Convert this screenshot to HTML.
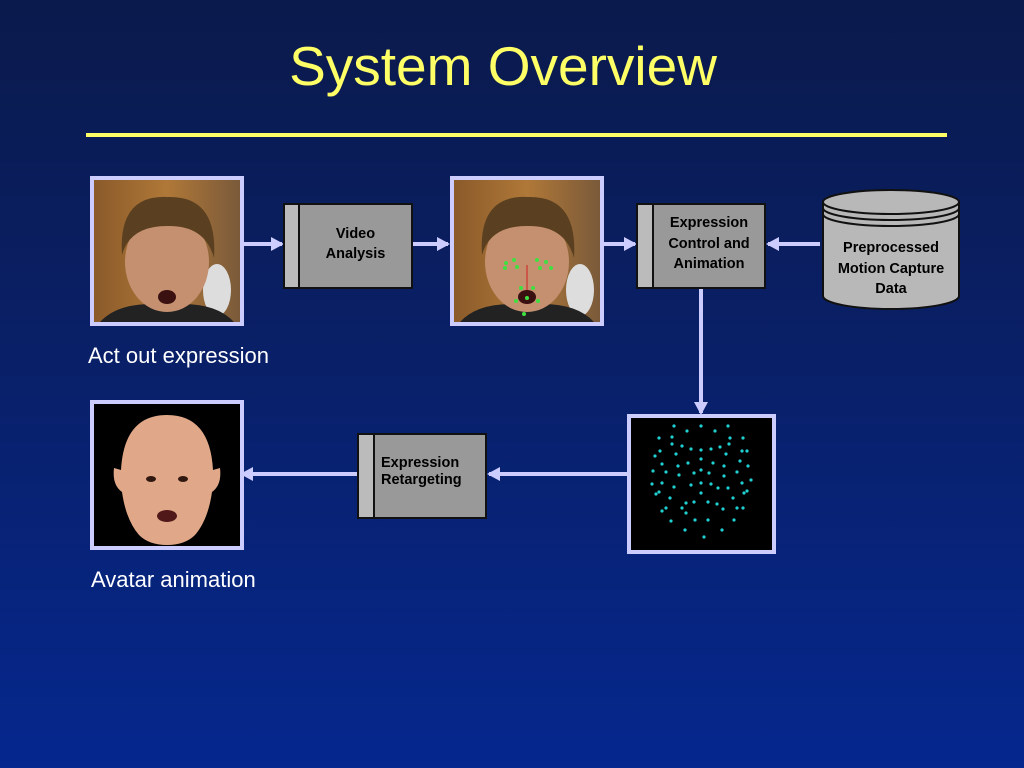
<!DOCTYPE html>
<html><head><meta charset="utf-8"><style>
html,body{margin:0;padding:0;}
body{width:1024px;height:768px;overflow:hidden;background:linear-gradient(180deg,#0b1a4c 0%,#09206a 50%,#05278e 100%);font-family:"Liberation Sans",sans-serif;position:relative;}
.t{position:absolute;}
</style></head><body>
<div class="t" style="left:0;width:1006px;top:34px;text-align:center;font-size:55px;color:#ffff66;">System Overview</div>
<div class="t" style="left:86px;top:133px;width:861px;height:4px;background:#ffff66;"></div>
<svg width="1024" height="768" style="position:absolute;left:0;top:0">
<defs>
<linearGradient id="wall" x1="0" x2="1"><stop offset="0" stop-color="#8a5a2a"/><stop offset="0.5" stop-color="#b07838"/><stop offset="1" stop-color="#7a5a3a"/></linearGradient>
<marker id="ah" markerWidth="14" markerHeight="14" refX="11" refY="7" orient="auto" markerUnits="userSpaceOnUse"><path d="M0,0 L13,7 L0,14 Z" fill="#ccccff"/></marker>
</defs>
<g stroke="#ccccff" stroke-width="4" fill="none">
<line x1="244" y1="244" x2="282" y2="244" marker-end="url(#ah)"/>
<line x1="412" y1="244" x2="448" y2="244" marker-end="url(#ah)"/>
<line x1="604" y1="244" x2="635" y2="244" marker-end="url(#ah)"/>
<line x1="820" y1="244" x2="768" y2="244" marker-end="url(#ah)"/>
<line x1="701" y1="288" x2="701" y2="413" marker-end="url(#ah)"/>
<line x1="627" y1="474" x2="489" y2="474" marker-end="url(#ah)"/>
<line x1="358" y1="474" x2="242" y2="474" marker-end="url(#ah)"/>
</g>
<rect x="90" y="176" width="154" height="150" fill="#ccccff"/>
<rect x="94" y="180" width="146" height="142" fill="url(#wall)"/>
<ellipse cx="217" cy="290" rx="14" ry="26" fill="#ddd"/>
<path d="M100,322 Q120,300 167,305 Q214,300 234,322 Z" fill="#222"/>
<ellipse cx="167" cy="262" rx="42" ry="50" fill="#c49070"/>
<path d="M122,255 Q118,195 167,197 Q218,195 214,258 Q205,225 167,226 Q130,226 122,255Z" fill="#5a4020"/>
<ellipse cx="167" cy="297" rx="9" ry="7" fill="#3a1010"/>
<rect x="450" y="176" width="154" height="150" fill="#ccccff"/>
<rect x="454" y="180" width="146" height="142" fill="url(#wall)"/>
<ellipse cx="580" cy="290" rx="14" ry="26" fill="#ddd"/>
<path d="M460,322 Q480,300 527,305 Q574,300 594,322 Z" fill="#222"/>
<ellipse cx="527" cy="262" rx="42" ry="50" fill="#c49070"/>
<path d="M482,255 Q478,195 527,197 Q578,195 574,258 Q565,225 527,226 Q490,226 482,255Z" fill="#5a4020"/>
<ellipse cx="527" cy="297" rx="9" ry="7" fill="#3a1010"/>
<line x1="527" y1="265" x2="527" y2="290" stroke="#d02020" stroke-width="1"/>
<g fill="#40e040"><circle cx="506" cy="263" r="2"/><circle cx="514" cy="260" r="2"/><circle cx="505" cy="268" r="2"/><circle cx="517" cy="267" r="2"/><circle cx="537" cy="260" r="2"/><circle cx="546" cy="262" r="2"/><circle cx="540" cy="268" r="2"/><circle cx="551" cy="268" r="2"/><circle cx="521" cy="288" r="2"/><circle cx="533" cy="288" r="2"/><circle cx="516" cy="301" r="2"/><circle cx="538" cy="301" r="2"/><circle cx="527" cy="298" r="2"/><circle cx="524" cy="314" r="2"/></g>
<g stroke="#111" stroke-width="2">
<rect x="284" y="204" width="128" height="84" fill="#999"/><rect x="284" y="204" width="15" height="84" fill="#bbb"/>
<rect x="637" y="204" width="128" height="84" fill="#999"/><rect x="637" y="204" width="16" height="84" fill="#bbb"/>
<rect x="358" y="434" width="128" height="84" fill="#999"/><rect x="358" y="434" width="16" height="84" fill="#bbb"/>
</g>
<g stroke="#111" stroke-width="2" fill="#b8b8b8">
<path d="M823,202 L823,296 A68,13 0 0 0 959,296 L959,202"/>
<ellipse cx="891" cy="202" rx="68" ry="12"/>
<path d="M823,208 A68,12 0 0 0 959,208" fill="none"/>
<path d="M823,214 A68,12 0 0 0 959,214" fill="none"/>
</g>
<rect x="627" y="414" width="149" height="140" fill="#ccccff"/>
<rect x="631" y="418" width="141" height="132" fill="#000"/>
<g fill="#20d0d0" transform="translate(627,414)">
<circle cx="47" cy="12" r="1.6"/><circle cx="60" cy="17" r="1.6"/><circle cx="74" cy="12" r="1.6"/><circle cx="88" cy="17" r="1.6"/><circle cx="101" cy="12" r="1.6"/><circle cx="32" cy="24" r="1.6"/><circle cx="45" cy="23" r="1.6"/><circle cx="103" cy="24" r="1.6"/><circle cx="116" cy="24" r="1.6"/><circle cx="45" cy="30" r="1.6"/><circle cx="55" cy="32" r="1.6"/><circle cx="64" cy="35" r="1.6"/><circle cx="74" cy="36" r="1.6"/><circle cx="84" cy="35" r="1.6"/><circle cx="93" cy="33" r="1.6"/><circle cx="102" cy="30" r="1.6"/><circle cx="33" cy="37" r="1.6"/><circle cx="49" cy="40" r="1.6"/><circle cx="99" cy="40" r="1.6"/><circle cx="115" cy="37" r="1.6"/><circle cx="120" cy="37" r="1.6"/><circle cx="28" cy="42" r="1.6"/><circle cx="35" cy="50" r="1.6"/><circle cx="61" cy="49" r="1.6"/><circle cx="74" cy="45" r="1.6"/><circle cx="86" cy="49" r="1.6"/><circle cx="97" cy="52" r="1.6"/><circle cx="113" cy="47" r="1.6"/><circle cx="121" cy="52" r="1.6"/><circle cx="26" cy="57" r="1.6"/><circle cx="39" cy="58" r="1.6"/><circle cx="51" cy="52" r="1.6"/><circle cx="52" cy="61" r="1.6"/><circle cx="67" cy="59" r="1.6"/><circle cx="74" cy="56" r="1.6"/><circle cx="82" cy="59" r="1.6"/><circle cx="97" cy="62" r="1.6"/><circle cx="110" cy="58" r="1.6"/><circle cx="25" cy="70" r="1.6"/><circle cx="35" cy="69" r="1.6"/><circle cx="47" cy="73" r="1.6"/><circle cx="64" cy="71" r="1.6"/><circle cx="74" cy="69" r="1.6"/><circle cx="84" cy="70" r="1.6"/><circle cx="91" cy="74" r="1.6"/><circle cx="101" cy="74" r="1.6"/><circle cx="115" cy="69" r="1.6"/><circle cx="124" cy="66" r="1.6"/><circle cx="29" cy="80" r="1.6"/><circle cx="32" cy="78" r="1.6"/><circle cx="43" cy="84" r="1.6"/><circle cx="74" cy="79" r="1.6"/><circle cx="117" cy="79" r="1.6"/><circle cx="120" cy="77" r="1.6"/><circle cx="59" cy="89" r="1.6"/><circle cx="67" cy="88" r="1.6"/><circle cx="81" cy="88" r="1.6"/><circle cx="90" cy="90" r="1.6"/><circle cx="106" cy="84" r="1.6"/><circle cx="35" cy="97" r="1.6"/><circle cx="39" cy="94" r="1.6"/><circle cx="55" cy="94" r="1.6"/><circle cx="59" cy="99" r="1.6"/><circle cx="96" cy="95" r="1.6"/><circle cx="110" cy="94" r="1.6"/><circle cx="116" cy="94" r="1.6"/><circle cx="44" cy="107" r="1.6"/><circle cx="68" cy="106" r="1.6"/><circle cx="81" cy="106" r="1.6"/><circle cx="107" cy="106" r="1.6"/><circle cx="58" cy="116" r="1.6"/><circle cx="95" cy="116" r="1.6"/><circle cx="77" cy="123" r="1.6"/>
</g>
<rect x="90" y="400" width="154" height="150" fill="#ccccff"/>
<rect x="94" y="404" width="146" height="142" fill="#000"/>
<path d="M167,415 Q210,415 213,470 L220,468 Q222,485 212,492 Q208,520 195,535 Q185,545 167,545 Q149,545 139,535 Q126,520 122,492 Q112,485 114,468 L121,470 Q124,415 167,415Z" fill="#e0a888"/>
<ellipse cx="151" cy="479" rx="5" ry="3" fill="#301810"/><ellipse cx="183" cy="479" rx="5" ry="3" fill="#301810"/>
<ellipse cx="167" cy="516" rx="10" ry="6" fill="#501818"/>
</svg>
<div class="t" style="left:299px;width:113px;top:224px;text-align:center;font-size:14.5px;font-weight:bold;line-height:20px;color:#000;">Video<br>Analysis</div>
<div class="t" style="left:653px;width:112px;top:213px;text-align:center;font-size:14.5px;font-weight:bold;line-height:20.5px;color:#000;">Expression<br>Control and<br>Animation</div>
<div class="t" style="left:381px;top:455px;font-size:14.5px;font-weight:bold;line-height:17px;color:#000;">Expression<br>Retargeting</div>
<div class="t" style="left:823px;width:136px;top:238px;text-align:center;font-size:14.5px;font-weight:bold;line-height:20.5px;color:#000;">Preprocessed<br>Motion Capture<br>Data</div>
<div class="t" style="left:88px;top:343px;font-size:22px;color:#fff;">Act out expression</div>
<div class="t" style="left:91px;top:567px;font-size:22px;color:#fff;">Avatar animation</div>
</body></html>
